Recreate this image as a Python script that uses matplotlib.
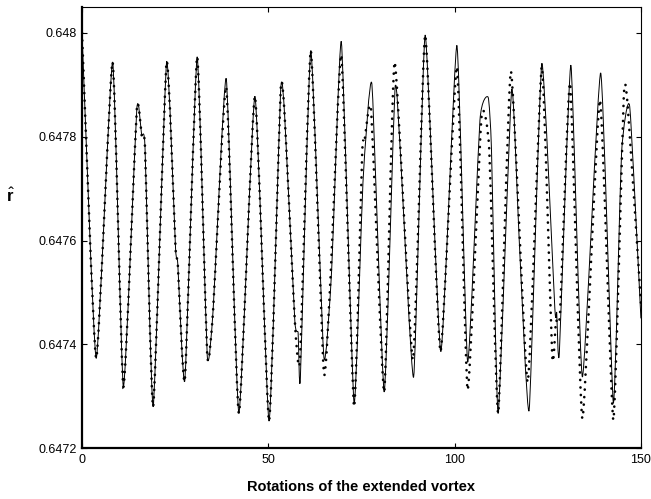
import numpy as np
import matplotlib
matplotlib.use("Agg")
import matplotlib.pyplot as plt
from matplotlib.path import Path
from matplotlib.patches import PathPatch

plt.rcParams["font.family"] = ["Liberation Sans", "DejaVu Sans"]
plt.rcParams["mathtext.fontset"] = "custom"
plt.rcParams["mathtext.bf"] = "Liberation Sans:bold"
plt.rcParams["mathtext.rm"] = "Liberation Sans"

# Сплошная линия: опорные точки (вершины, впадины, изломы)
line_x = [0.0, 3.8, 8.2, 11.1, 14.7, 16.0, 16.9, 19.1, 22.7, 25.1, 25.7, 27.6,
          30.9, 33.6, 35.2, 38.7, 42.1, 46.4, 50.2, 53.3, 54.4, 57.1, 58.0, 58.6,
          61.4, 64.9, 67.0, 69.6, 73.0, 75.4, 77.8, 81.1, 84.0, 85.5, 89.0, 92.1,
          96.3, 100.6, 103.5, 106.8, 109.0, 109.9, 111.7, 115.3, 117.3, 120.0, 123.4,
          126.9, 127.4, 128.1, 131.2, 134.3, 139.2, 142.6, 144.8, 147.0, 150.0]
line_y = [0.64800, 0.647373, 0.647944, 0.647318, 0.647853, 0.647803, 0.647780, 0.647280,
          0.647944, 0.647585, 0.647555, 0.647331, 0.647954, 0.647379, 0.647468, 0.647912,
          0.647267, 0.647878, 0.647252, 0.647888, 0.647838, 0.647447, 0.647422, 0.647334,
          0.647966, 0.647376, 0.647543, 0.647983, 0.647287, 0.647712, 0.647901, 0.647308,
          0.647893, 0.647762, 0.647337, 0.647996, 0.647386, 0.647976, 0.647366, 0.647832,
          0.647876, 0.647774, 0.647267, 0.647890, 0.647607, 0.647273, 0.647941, 0.647469,
          0.647462, 0.647382, 0.647938, 0.647337, 0.647923, 0.647287, 0.647768, 0.647858,
          0.647450]

# Точечная кривая
dots_x = [0.0, 3.8, 8.2, 11.1, 14.7, 16.0, 16.9, 19.1, 22.7, 25.1, 25.7, 27.6,
          30.9, 33.6, 35.2, 38.7, 42.1, 46.4, 50.2, 53.3, 54.4, 57.1, 58.5,
          61.4, 64.9, 66.8, 69.6, 73.0, 75.2, 75.8, 77.6, 81.1, 83.9, 88.8, 92.1,
          96.2, 100.6, 103.5, 107.2, 109.3, 111.7, 115.1, 119.6, 123.4,
          126.2, 127.2, 128.3, 131.0, 134.3, 139.0, 142.6, 145.4, 146.5, 150.0]
dots_y = [0.64800, 0.647373, 0.647944, 0.647318, 0.647853, 0.647803, 0.647780, 0.647280,
          0.647944, 0.647585, 0.647555, 0.647331, 0.647954, 0.647379, 0.647468, 0.647896,
          0.647267, 0.647878, 0.647252, 0.647888, 0.647838, 0.647447, 0.647370,
          0.647966, 0.647345, 0.647545, 0.647957, 0.647280, 0.647770, 0.647790, 0.647851,
          0.647308, 0.647944, 0.647370, 0.647996, 0.647386, 0.647935, 0.647312, 0.647837,
          0.647775, 0.647267, 0.647926, 0.647327, 0.647935,
          0.647377, 0.647445, 0.647460, 0.647903, 0.647257, 0.647871, 0.647254, 0.647877,
          0.647855, 0.647480]

TENSION = 0.5


# Сглаженная кривая через опорные точки (кривые Безье)
def smooth_path(xs, ys, t=TENSION):
    x = np.asarray(xs, dtype=float)
    y = np.asarray(ys, dtype=float)
    n = len(x)
    verts = [(x[0], y[0])]
    codes = [Path.MOVETO]
    for i in range(n - 1):
        i0 = max(i - 1, 0)
        i3 = min(i + 2, n - 1)
        c1x = x[i] + t * (x[i + 1] - x[i0]) / 6
        c1y = y[i] + t * (y[i + 1] - y[i0]) / 6
        c2x = x[i + 1] - t * (x[i3] - x[i]) / 6
        c2y = y[i + 1] - t * (y[i3] - y[i]) / 6
        c1x = min(max(c1x, x[i]), x[i + 1])
        c2x = min(max(c2x, x[i]), x[i + 1])
        verts += [(c1x, c1y), (c2x, c2y), (x[i + 1], y[i + 1])]
        codes += [Path.CURVE4] * 3
    return Path(verts, codes)


fig = plt.figure(figsize=(6.51, 4.99), dpi=100)
ax = fig.add_axes([0.126, 0.102, 0.8585, 0.884])

ax.add_patch(PathPatch(smooth_path(line_x, line_y), facecolor="none",
                       edgecolor="black", lw=0.7))
ax.add_patch(PathPatch(smooth_path(dots_x, dots_y), facecolor="none",
                       edgecolor="black", lw=1.9, linestyle=(0, (0.05, 2.8)),
                       capstyle="round"))

ax.set_xlim(0, 150)
ax.set_ylim(0.6472, 0.64805)
ax.set_xticks([0, 50, 100, 150])
ax.set_xticklabels(["0", "50", "100", "150"])
ax.set_yticks([0.6472, 0.6474, 0.6476, 0.6478, 0.648])
ax.set_yticklabels(["0.6472", "0.6474", "0.6476", "0.6478", "0.648"])
ax.tick_params(direction="in", top=True, right=True, length=3.5, width=0.8,
               labelsize=9, pad=4)

for s in ["left", "bottom"]:
    ax.spines[s].set_linewidth(1.6)
for s in ["top", "right"]:
    ax.spines[s].set_linewidth(0.8)

ax.set_xlabel("Rotations of the extended vortex", fontsize=10.5, fontweight="bold")
ax.xaxis.set_label_coords(0.5, -0.072)
ax.set_ylabel(r"$\hat{\mathbf{r}}$", fontsize=12, rotation=0)
ax.yaxis.set_label_coords(-0.128, 0.55)

plt.savefig("out.png", dpi=100)
